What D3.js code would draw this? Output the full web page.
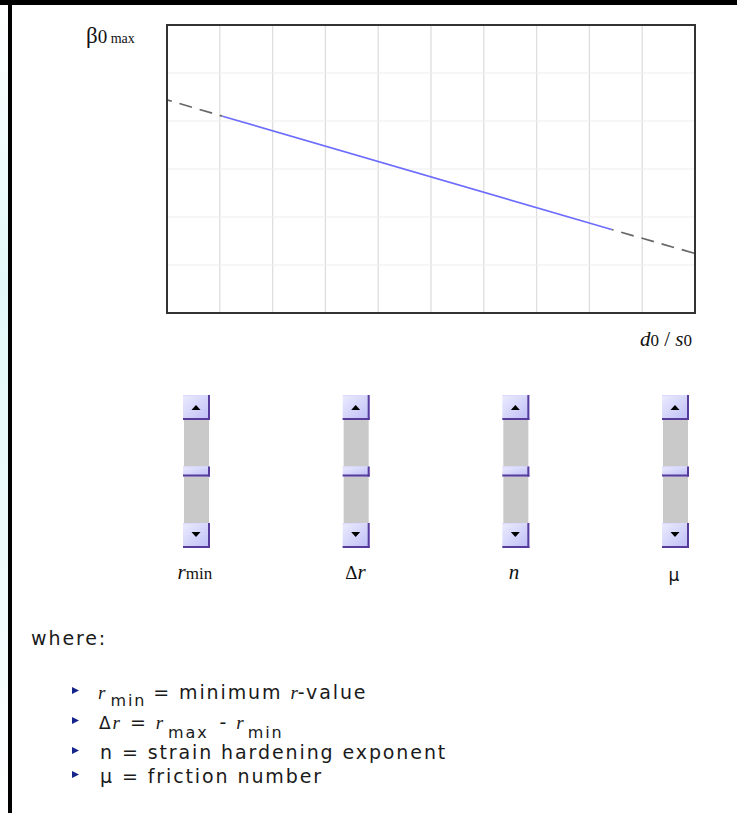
<!DOCTYPE html>
<html><head><meta charset="utf-8">
<script src="https://cdn.jsdelivr.net/npm/d3@7"></script>
<style>html,body{margin:0;padding:0;background:#fff;overflow:hidden}</style>
</head><body>
<script>
// ---- data ----
const xTicks = [0,1,2,3,4,5,6,7,8,9,10];
const yTicks = [0,1,2,3,4,5,6];
const dashLeft  = [[0, 4.44], [1.05, 4.10]];
const blueLine  = [[1.05, 4.10], [8.42, 1.74]];
const dashRight = [[8.42, 1.74], [10, 1.24]];
const params = ["rmin", "Δr", "n", "μ"];
const sliderValues = [0.5, 0.5, 0.5, 0.5];
const legendRows = ["rmin", "dr", "n", "mu"];

const W = 737, H = 813;
const svg = d3.select("body").append("svg").attr("width", W).attr("height", H);
const defs = svg.append("defs");

// page frame
const lg = defs.append("linearGradient").attr("id","cy").attr("x1",0).attr("y1",0).attr("x2",0).attr("y2",1);
lg.append("stop").attr("offset","0").attr("stop-color","#ffffff");
lg.append("stop").attr("offset","0.35").attr("stop-color","#e2f8f8");
lg.append("stop").attr("offset","0.7").attr("stop-color","#eefafa");
lg.append("stop").attr("offset","1").attr("stop-color","#ffffff");
svg.append("rect").attr("x",0).attr("y",0).attr("width",8).attr("height",H).attr("fill","url(#cy)");
svg.append("rect").attr("x",0).attr("y",0).attr("width",W).attr("height",5).attr("fill","#000");
svg.append("rect").attr("x",8).attr("y",0).attr("width",4).attr("height",H).attr("fill","#000");

// ---- chart ----
const x = d3.scaleLinear().domain([0,10]).range([167,695]);
const y = d3.scaleLinear().domain([0,6]).range([313,25]);

const g = svg.append("g");
g.selectAll("line.vg").data(xTicks.slice(1,-1)).join("line").attr("class","vg")
  .attr("x1",d=>x(d)).attr("x2",d=>x(d)).attr("y1",y(6)).attr("y2",y(0))
  .attr("stroke","#dedede").attr("stroke-width",1.3);
g.selectAll("line.hg").data(yTicks.slice(1,-1)).join("line").attr("class","hg")
  .attr("y1",d=>y(d)).attr("y2",d=>y(d)).attr("x1",x(0)).attr("x2",x(10))
  .attr("stroke","#ededed").attr("stroke-width",1.2);

const line = d3.line().x(d=>x(d[0])).y(d=>y(d[1]));
g.append("path").datum(dashLeft).attr("d",line).attr("fill","none")
  .attr("stroke","#666").attr("stroke-width",1.7).attr("stroke-dasharray","13,8").attr("stroke-dashoffset",8);
g.append("path").datum(dashRight).attr("d",line).attr("fill","none")
  .attr("stroke","#666").attr("stroke-width",1.7).attr("stroke-dasharray","13,8").attr("stroke-dashoffset",11);
g.append("path").datum(blueLine).attr("d",line).attr("fill","none")
  .attr("stroke","#6c6cff").attr("stroke-width",1.7);

g.append("rect").attr("x",x(0)).attr("y",y(6)).attr("width",x(10)-x(0)).attr("height",y(0)-y(6))
  .attr("fill","none").attr("stroke","#333").attr("stroke-width",2);

// axis labels
const serif = "'Liberation Serif','Times New Roman',serif";
const yl = svg.append("text").attr("x",86).attr("y",43).attr("font-family",serif).attr("fill","#111");
yl.append("tspan").attr("font-size",23).text("β");
yl.append("tspan").attr("font-size",19).text("0");
yl.append("tspan").attr("font-size",14).text(" max");

const xl = svg.append("text").attr("x",692).attr("y",346).attr("text-anchor","end").attr("font-family",serif).attr("fill","#111");
xl.append("tspan").attr("font-size",21).attr("font-style","italic").text("d");
xl.append("tspan").attr("font-size",17).text("0");
xl.append("tspan").attr("font-size",21).text(" / ");
xl.append("tspan").attr("font-size",21).attr("font-style","italic").text("s");
xl.append("tspan").attr("font-size",17).text("0");

// ---- sliders ----
const sx = d3.scalePoint().domain(params).range([196.5, 675.5]);
const sy = d3.scaleLinear().domain([0,1]).range([420, 523]);
const bw = 27, bh = 25;
const bg = defs.append("linearGradient").attr("id","btn").attr("x1",0).attr("y1",0).attr("x2",1).attr("y2",1);
bg.append("stop").attr("offset","0").attr("stop-color","#ececff");
bg.append("stop").attr("offset","1").attr("stop-color","#bdbdf6");

function button(sel, x0, y0, w, h) {
  sel.append("rect").attr("x",x0).attr("y",y0).attr("width",w).attr("height",h).attr("fill","url(#btn)");
  sel.append("rect").attr("x",x0).attr("y",y0).attr("width",w).attr("height",1).attr("fill","#d9d9ff");
  sel.append("rect").attr("x",x0+w-2).attr("y",y0).attr("width",2).attr("height",h).attr("fill","#563a9c");
  sel.append("rect").attr("x",x0).attr("y",y0+h-2).attr("width",w).attr("height",2).attr("fill","#563a9c");
}

const sl = svg.selectAll("g.slider").data(params).join("g").attr("class","slider");
sl.each(function(p, i) {
  const s = d3.select(this);
  const cx = sx(p), x0 = cx - bw/2;
  s.append("rect").attr("x",x0+1).attr("y",sy(0)).attr("width",bw-2).attr("height",sy(1)-sy(0)).attr("fill","#c9c9c9");
  button(s, x0, sy(0)-bh, bw, bh);
  s.append("path").attr("d",`M${cx-5},${sy(0)-bh/2+2.5}L${cx+4},${sy(0)-bh/2+2.5}L${cx-0.5},${sy(0)-bh/2-2.5}Z`).attr("fill","#000");
  button(s, x0, sy(1), bw, bh);
  s.append("path").attr("d",`M${cx-5},${sy(1)+bh/2-3.5}L${cx+4},${sy(1)+bh/2-3.5}L${cx-0.5},${sy(1)+bh/2+1.5}Z`).attr("fill","#000");
  const ty = sy(sliderValues[i]) - 5;
  button(s, x0, ty, bw, 10);
});

// slider labels
const lab = svg.append("g").attr("font-family",serif).attr("fill","#111");
let t = lab.append("text").attr("x",sx("rmin")-19).attr("y",579);
t.append("tspan").attr("font-size",21).attr("font-style","italic").text("r");
t.append("tspan").attr("font-size",17).text("min");
t = lab.append("text").attr("x",sx("Δr")-11).attr("y",579);
t.append("tspan").attr("font-size",19).text("Δ");
t.append("tspan").attr("font-size",21).attr("font-style","italic").text("r");
t = lab.append("text").attr("x",sx("n")-7).attr("y",579).attr("font-size",21).attr("font-style","italic").text("n");
lab.append("text").attr("x",sx("μ")-7).attr("y",581).attr("font-family","'DejaVu Sans',sans-serif").attr("font-size",17).text("μ");

// ---- legend text ----
const sans = "'DejaVu Sans',Verdana,sans-serif";
const txt = svg.append("g").attr("font-family",sans).attr("fill","#1a1a1a").attr("letter-spacing","1.9px");
txt.append("text").attr("x",31).attr("y",645).attr("font-size",19).text("where:");

const rowY = [699, 729, 759, 783];
svg.selectAll("path.bul").data(legendRows).join("path").attr("class","bul")
  .attr("d",(d,i)=>`M72,${rowY[i]-12}L79,${rowY[i]-8.5}L72,${rowY[i]-5}Z`).attr("fill","#14248a");

function it(tx, s) { tx.append("tspan").attr("font-family",serif).attr("font-style","italic").attr("font-size",19).attr("letter-spacing","0px").text(s); }

let r = txt.append("text").attr("x",98).attr("y",rowY[0]).attr("font-size",19);
it(r,"r"); r.append("tspan").attr("font-size",16).attr("dx",5).attr("dy",7).text("min");
r.append("tspan").attr("dy",-7).attr("dx",-1).text(" = minimum ");
it(r,"r"); r.append("tspan").text("-value");

r = txt.append("text").attr("x",99).attr("y",rowY[1]).attr("font-size",19);
r.append("tspan").attr("font-size",17).text("Δ"); it(r,"r");
r.append("tspan").attr("dx",2).text(" = ");
it(r,"r"); r.append("tspan").attr("font-size",16).attr("dx",5).attr("dy",9).text("max");
r.append("tspan").attr("dy",-9).attr("dx",3).text(" - ");
it(r,"r"); r.append("tspan").attr("font-size",16).attr("dx",4).attr("dy",9).text("min");

txt.append("text").attr("x",100).attr("y",rowY[2]).attr("font-size",19).text("n = strain hardening exponent");
txt.append("text").attr("x",100).attr("y",rowY[3]).attr("font-size",19).text("μ = friction number");
</script>
</body></html>
